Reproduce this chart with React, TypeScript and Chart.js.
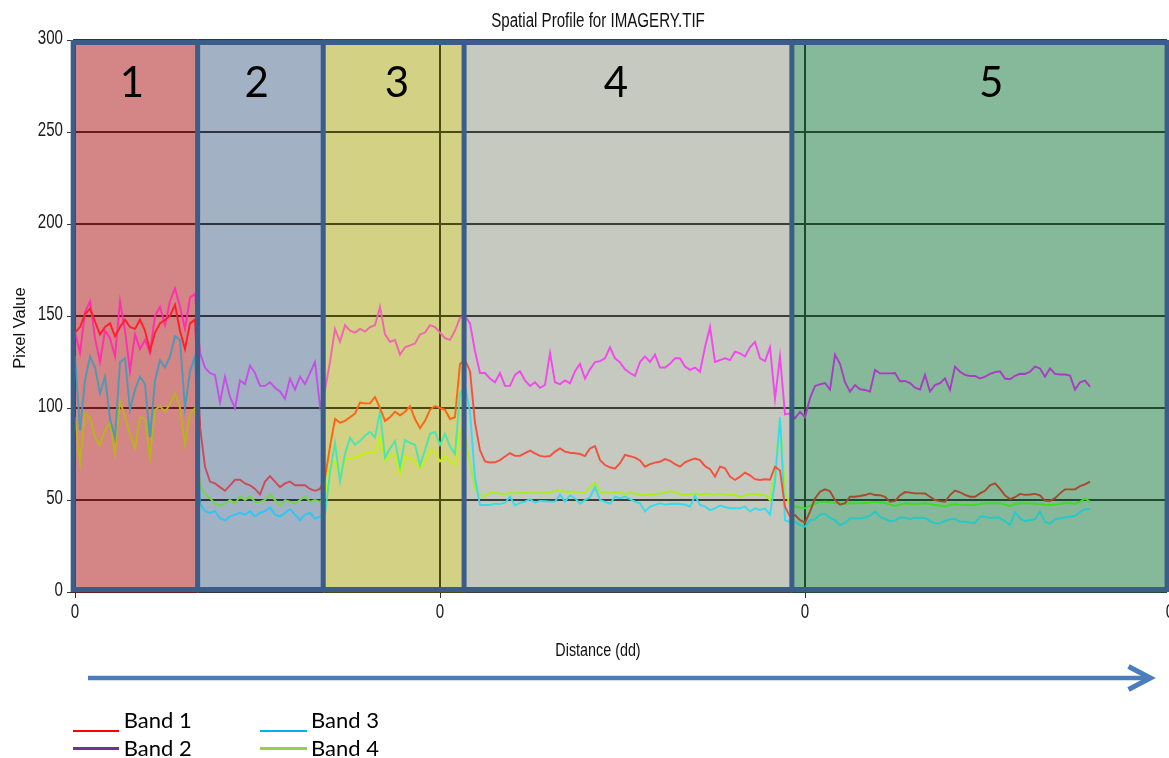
import React, { useEffect, useRef } from 'react';
import { Chart, registerables } from 'chart.js';

Chart.register(...registerables);

// ---- Text ----
const TITLE = 'Spatial Profile for IMAGERY.TIF';
const X_TITLE = 'Distance (dd)';
const Y_TITLE = 'Pixel Value';
const BAND_LABELS = ['Band 1', 'Band 2', 'Band 3', 'Band 4'];
const ZONE_NAMES = ['1', '2', '3', '4', '5'];

// ---- Axes ----
const Y_TICKS = [0, 50, 100, 150, 200, 250, 300];
const X_TICKS = [0, 1, 2, 3];
const X_TICK_LABEL = '0';
const SAMPLE_STEP = 1 / 73; // distance between profile samples

// Zone boundaries along the profile (distance units)
const ZONE_EDGES = [-0.005, 0.336, 0.68, 1.066, 1.964, 2.992];
const ZONE_LABEL_X = [0.156, 0.498, 0.882, 1.482, 2.51];

// ---- Band 1 ----
const band1Zone1 = [141, 144, 151, 154, 147, 140, 144, 146, 139, 144, 148, 144, 143, 148, 142, 131, 141, 146, 148, 150, 156, 142, 132, 146, 148];
const band1Zone2 = [90, 68, 60, 59, 57, 55, 58, 61, 61, 59, 58, 56, 53, 60, 63, 60, 57, 59, 60, 58, 58, 58, 56, 55, 56];
const band1Zone3 = [62, 79, 94, 92, 93, 95, 97, 103, 102.5, 102.5, 106, 100, 93, 95, 98, 96, 98, 101, 94, 89, 93, 99, 101, 100, 99, 94, 95, 124];
const band1Zone4 = [126, 120, 92, 77, 71, 70.4, 70.5, 71.7, 73.6, 75.5, 74, 74, 75.5, 76.8, 75.3, 74, 73.6, 73.9, 76.3, 78, 76.3, 75.7, 75.4, 75, 73.9, 78, 79.3, 71.7, 69, 67.8, 67, 70, 74.5, 73.8, 73, 71.5, 68.1, 69.5, 70.3, 70.8, 72.2, 71.3, 69.5, 68.1, 70.5, 71.7, 72.5, 71.7, 68.4, 66.8, 62.7, 68.1, 67.2, 62.7, 60.9, 62.7, 64.9, 63.4, 61.3, 60.9, 61.3, 61, 68.1, 66, 46.4, 41];
const band1Zone5 = [41.8, 39.1, 37.7, 43.7, 50.9, 54.5, 55.8, 54.8, 50, 47.5, 48.3, 51.8, 51.8, 52.2, 52.7, 53.6, 52.7, 52.6, 51.7, 49, 49.5, 52.5, 54.3, 54, 53.6, 53.6, 53.5, 51.8, 50, 49.4, 49, 52.7, 55.1, 54.2, 52.8, 51.8, 51.8, 53.6, 55, 58, 59, 56, 52.5, 50.5, 51.5, 53.3, 52.8, 53, 53.3, 52.5, 49.7, 49.5, 51, 53.6, 55.8, 55.8, 55.8, 57.5, 58.5, 60];

// ---- Band 2 ----
const band2Zone1 = [141, 130, 152, 158, 138, 125, 142, 138, 128, 158, 142, 120, 140, 132, 137, 130, 150, 155, 145, 158, 165, 155, 143, 160, 162];
const band2Zone2 = [130, 122, 119, 118, 103, 117, 106, 100, 115, 113, 123, 119, 112, 112, 114, 111, 109, 105, 116, 110, 117, 113, 119, 125, 101];
const band2Zone3 = [110, 125, 143, 136, 145, 142, 141, 143, 141.5, 144, 145, 155, 140, 136, 137, 129, 133, 134, 135, 140, 141, 145, 144, 141, 138, 137, 142, 149];
const band2Zone4 = [150, 146, 131, 119, 119, 116, 114, 119, 112, 112, 118, 120, 115, 112, 114, 111, 112.5, 130, 114, 113, 115, 113.4, 120, 124, 116, 121, 125, 125.5, 127, 133, 127, 124.8, 121, 119, 117.5, 125, 128, 125, 129, 122, 122, 124, 127, 127, 122.5, 120.7, 122, 119.7, 133, 144, 125, 126, 127, 126, 130.6, 129.7, 128, 133, 136, 127, 125.5, 133, 105, 128, 96.5, 97];
const band2Zone5 = [94.4, 98, 95, 105.3, 112, 112.8, 113.6, 110, 129, 124, 114, 108.9, 112.5, 110.2, 109.8, 108.9, 120.7, 118.8, 118.8, 118.8, 119, 114.5, 114.7, 113.5, 111, 110, 118, 109, 112.5, 113.5, 116.1, 109.8, 122.5, 119.7, 118, 117.4, 117.4, 116, 117, 118.5, 119.5, 120, 116, 115.6, 117.5, 118.6, 118.5, 119.7, 122.5, 121.5, 117, 121.5, 118.5, 118.2, 118.2, 117.6, 110, 114, 114.9, 111.6];

// ---- Band 3 ----
const band3Zone1 = [128, 88, 115, 128, 122, 108, 117, 94, 84, 125, 127, 99, 110, 117, 113, 84, 115, 126, 122, 128, 139, 137, 100, 120, 128];
const band3Zone2 = [48, 44, 43, 44, 40, 39, 41, 42, 43, 42, 44, 41, 43, 44, 46, 42, 41, 43, 45, 42, 39, 42, 43, 40, 41];
const band3Zone3 = [42, 65, 81, 60, 75, 84, 80, 82, 85, 87, 84, 98, 73, 78, 82, 68, 82.6, 81, 80, 69, 77, 86, 87, 80, 86, 79, 75, 108];
const band3Zone4 = [112, 98, 62, 47.3, 47.3, 47.3, 48, 47.8, 48.5, 51.8, 47, 48.5, 49.1, 50.5, 48.5, 49.5, 49.3, 49.1, 49.1, 53, 49.1, 52.5, 51, 48, 50, 51.5, 57, 50, 49, 48, 51.8, 51, 51.8, 50.5, 49.1, 48.2, 43.7, 46.4, 47.3, 48.2, 47.5, 47.8, 48, 47.8, 47.5, 46.5, 52.2, 47.3, 46.5, 44.5, 45.5, 47, 46.2, 45.5, 45.5, 45.5, 46.4, 43.7, 45.5, 44.6, 45.5, 42, 60, 95, 39, 38];
const band3Zone5 = [38.2, 36.4, 35.5, 39.1, 39.5, 42, 42.5, 40.3, 39, 36.4, 37.5, 40, 40, 40, 40.5, 41.5, 43.7, 40.9, 39.7, 38.5, 38.8, 40.5, 40.5, 39.5, 40.5, 40.2, 40.3, 38.5, 37.3, 37.3, 38.5, 39.6, 39.8, 38.2, 38.2, 37.7, 37.5, 40.9, 40.9, 40.3, 40.5, 40.3, 38.5, 36.4, 43.3, 40, 38.5, 39, 39.6, 43.7, 38.2, 37, 39.5, 40, 40.5, 40.9, 41.3, 43.5, 45, 45.1];

// ---- Band 4 ----
const band4Zone1 = [95, 70, 97, 95, 84, 80, 88, 92, 75, 104, 95, 86, 78, 95, 94, 73, 99, 101, 98, 102, 108, 100, 80, 97, 100];
const band4Zone2 = [58, 53, 51, 48, 47, 48, 50, 48, 52, 50, 52, 49, 49, 50, 53, 50, 47, 50, 49, 48, 50, 52, 49, 50, 49];
const band4Zone3 = [52, 69, 71, 63, 72, 73, 73, 74, 75.5, 76, 75.5, 84, 71.5, 74, 75, 64, 73.5, 72.6, 70.8, 67.5, 70.5, 77, 76, 71, 74, 71, 69, 88];
const band4Zone4 = [85, 70, 56, 52.5, 52.2, 54, 54, 53.6, 53, 54, 53.5, 54.2, 53.8, 53.8, 54, 53.6, 54, 54, 55, 55, 54.5, 54.5, 54.5, 54.3, 54, 57, 59.5, 53.6, 54.5, 53.6, 54.3, 54, 53, 54, 53.5, 52.7, 52.7, 53, 53.2, 53.6, 54, 54.9, 54, 53.3, 52.8, 53.2, 53.6, 52.7, 53.5, 53.2, 52.7, 53.6, 52.8, 52.7, 52.7, 51.8, 52.5, 53.3, 53.2, 52.7, 52.7, 50, 65, 94, 55.4, 47];
const band4Zone5 = [46.4, 46, 45.5, 46.8, 48, 49, 49.1, 48.8, 48.3, 48.2, 47.9, 48.2, 48.2, 48.2, 48.4, 48.6, 49, 48.8, 48.4, 47.5, 46.8, 47.5, 48.2, 48, 47.8, 48, 48.2, 47.8, 47.3, 47, 46.5, 47.3, 47.8, 47.5, 47.3, 47.3, 47.3, 47.8, 48.2, 48.2, 48.2, 48.2, 47.5, 46.8, 47.8, 48.2, 48.2, 48.2, 48, 47.8, 47.5, 47.3, 47.5, 47.8, 48.4, 48.2, 48, 49, 50.9, 49.1];

const BAND_SERIES = [
  [...band1Zone1, ...band1Zone2, ...band1Zone3, ...band1Zone4, ...band1Zone5],
  [...band2Zone1, ...band2Zone2, ...band2Zone3, ...band2Zone4, ...band2Zone5],
  [...band3Zone1, ...band3Zone2, ...band3Zone3, ...band3Zone4, ...band3Zone5],
  [...band4Zone1, ...band4Zone2, ...band4Zone3, ...band4Zone4, ...band4Zone5],
];

// ---- Styling ----
const LEGEND_COLORS = ['#ff0000', '#7030a0', '#00b0f0', '#92d050'];
const ZONE_FILLS = ['#d48585', '#a3b1c4', '#d2d184', '#c6c9bf', '#85b99a'];
const ZONE_GRID = ['#6a1c1c', '#2f3642', '#4c4a14', '#3c3e3a', '#1f4a30'];
// line colour of each band as it appears inside each tinted zone
const ZONE_BAND_COLORS = [
  ['#ff1f2a', '#ff2fae', '#4a9ab8', '#b8b51a'],
  ['#cc4a5a', '#c84ee8', '#2ec6f2', '#74d846'],
  ['#ff6416', '#f264b4', '#48e6b2', '#c4f20a'],
  ['#f4503e', '#f248ee', '#36dceb', '#a6f01e'],
  ['#a8482c', '#a83cc4', '#26c8c8', '#3fdc22'],
];
const FRAME_COLOR = '#3b5d8a';
const ARROW_COLOR = '#4a7ebb';
const SANS = "'Liberation Sans', Arial, sans-serif";
const NARROW_SCALE = 0.775; // horizontal squeeze for the chart window's narrow UI font

function zoneOf(x: number): number {
  for (let k = 0; k < ZONE_FILLS.length - 1; k++) {
    if (x < ZONE_EDGES[k + 1]) return k;
  }
  return ZONE_FILLS.length - 1;
}

// Draws text squeezed horizontally around (x, y)
function narrowText(
  ctx: CanvasRenderingContext2D,
  text: string,
  x: number,
  y: number,
  size: number,
  align: CanvasTextAlign,
  baseline: CanvasTextBaseline
) {
  ctx.save();
  ctx.translate(x, y);
  ctx.scale(NARROW_SCALE, 1);
  ctx.font = `${size}px ${SANS}`;
  ctx.textAlign = align;
  ctx.textBaseline = baseline;
  ctx.fillText(text, 0, 0);
  ctx.restore();
}

const profileDecor = {
  id: 'profileDecor',
  beforeDraw(chart: any) {
    const { ctx, chartArea: a, scales } = chart;
    const xs = scales.x;
    ctx.save();
    ctx.fillStyle = '#ffffff';
    ctx.fillRect(0, 0, chart.width, chart.height);
    ZONE_FILLS.forEach((c, k) => {
      const x0 = xs.getPixelForValue(ZONE_EDGES[k]);
      const x1 = xs.getPixelForValue(ZONE_EDGES[k + 1]);
      ctx.fillStyle = c;
      ctx.fillRect(x0, a.top, x1 - x0, a.bottom - a.top);
    });
    ctx.restore();
  },
  beforeDatasetsDraw(chart: any) {
    const { ctx, chartArea: a, scales } = chart;
    const xs = scales.x;
    const ys = scales.y;
    ctx.save();
    ctx.lineWidth = 2;
    ZONE_FILLS.forEach((_, k) => {
      const x0 = xs.getPixelForValue(ZONE_EDGES[k]);
      const x1 = xs.getPixelForValue(ZONE_EDGES[k + 1]);
      ctx.strokeStyle = ZONE_GRID[k];
      ctx.beginPath();
      Y_TICKS.forEach((v) => {
        const y = Math.round(ys.getPixelForValue(v));
        ctx.moveTo(x0, y);
        ctx.lineTo(x1, y);
      });
      ctx.stroke();
    });
    X_TICKS.forEach((v) => {
      const x = Math.round(xs.getPixelForValue(v));
      ctx.strokeStyle = ZONE_GRID[zoneOf(v)];
      ctx.beginPath();
      ctx.moveTo(x, a.top);
      ctx.lineTo(x, a.bottom);
      ctx.stroke();
    });
    ctx.restore();
  },
  afterDatasetsDraw(chart: any) {
    const { ctx, chartArea: a, scales } = chart;
    const xs = scales.x;
    ctx.save();
    ctx.strokeStyle = FRAME_COLOR;
    ctx.lineWidth = 5;
    const xL = xs.getPixelForValue(ZONE_EDGES[0]);
    const xR = xs.getPixelForValue(ZONE_EDGES[ZONE_EDGES.length - 1]);
    ctx.beginPath();
    ctx.moveTo(xL - 2.5, a.top + 2.5);
    ctx.lineTo(xR + 2.5, a.top + 2.5);
    ctx.moveTo(xL - 2.5, a.bottom - 2.5);
    ctx.lineTo(xR + 2.5, a.bottom - 2.5);
    ZONE_EDGES.forEach((e) => {
      const x = xs.getPixelForValue(e);
      ctx.moveTo(x, a.top);
      ctx.lineTo(x, a.bottom);
    });
    ctx.stroke();

    ctx.fillStyle = '#000000';
    ctx.font = '42px Lato';
    ctx.textAlign = 'center';
    ctx.textBaseline = 'alphabetic';
    ZONE_NAMES.forEach((name, k) => {
      ctx.fillText(name, xs.getPixelForValue(ZONE_LABEL_X[k]), a.top + 57);
    });
    ctx.restore();
  },
  afterDraw(chart: any) {
    const { ctx, chartArea: a, scales } = chart;
    const xs = scales.x;
    const ys = scales.y;
    ctx.save();
    ctx.fillStyle = '#1a1a1a';
    // tick labels
    Y_TICKS.forEach((v) => {
      narrowText(ctx, String(v), 63, ys.getPixelForValue(v) - 1, 19.5, 'right', 'middle');
    });
    X_TICKS.forEach((v) => {
      narrowText(ctx, X_TICK_LABEL, xs.getPixelForValue(v), a.bottom + 25.5, 19.5, 'center', 'alphabetic');
    });
    // titles
    ctx.fillStyle = '#111111';
    narrowText(ctx, TITLE, 598, a.top - 13.5, 19.5, 'center', 'alphabetic');
    narrowText(ctx, X_TITLE, 598, a.bottom + 63.5, 18.5, 'center', 'alphabetic');
    ctx.translate(25, 328);
    ctx.rotate(-Math.PI / 2);
    ctx.font = `16.5px ${SANS}`;
    ctx.textAlign = 'center';
    ctx.textBaseline = 'alphabetic';
    ctx.fillText(Y_TITLE, 0, 0);
    ctx.restore();
  },
};

function ProfileChart() {
  const canvasRef = useRef<HTMLCanvasElement | null>(null);

  useEffect(() => {
    const canvas = canvasRef.current;
    if (!canvas) return;
    const chart = new Chart(canvas, {
      type: 'line',
      data: {
        datasets: BAND_SERIES.map((series, b) => ({
          label: BAND_LABELS[b],
          data: series.map((v, i) => ({ x: i * SAMPLE_STEP, y: v })),
          borderColor: LEGEND_COLORS[b],
          borderWidth: 1.9,
          pointRadius: 0,
          tension: 0,
          fill: false,
          segment: {
            borderColor: (ctx: any) =>
              ZONE_BAND_COLORS[zoneOf((ctx.p0.parsed.x + ctx.p1.parsed.x) / 2)][b],
          },
        })),
      },
      options: {
        animation: false,
        responsive: false,
        devicePixelRatio: 1,
        events: [],
        layout: { padding: { top: 40, left: 0, right: 30, bottom: 126 } },
        plugins: {
          legend: { display: false },
          title: { display: false },
          tooltip: { enabled: false },
        },
        scales: {
          x: {
            type: 'linear',
            min: 0,
            max: 3,
            afterBuildTicks: (s: any) => {
              s.ticks = X_TICKS.map((value) => ({ value }));
            },
            afterFit: (s: any) => {
              s.height = 40;
            },
            ticks: { display: false },
            grid: { drawOnChartArea: false, tickLength: 6, color: '#333333', lineWidth: 1 },
            border: { display: false },
          },
          y: {
            type: 'linear',
            min: 0,
            max: 300,
            afterBuildTicks: (s: any) => {
              s.ticks = Y_TICKS.map((value) => ({ value }));
            },
            afterFit: (s: any) => {
              s.width = 75;
            },
            ticks: { display: false },
            grid: { drawOnChartArea: false, tickLength: 8, color: '#333333', lineWidth: 1 },
            border: { display: false },
          },
        },
      },
      plugins: [profileDecor],
    });
    return () => chart.destroy();
  }, []);

  return <canvas ref={canvasRef} width={1200} height={758} style={{ display: 'block' }} />;
}

const LEGEND_COL_X = [72.7, 260];
const LEGEND_LINE_Y = [731, 748.3];
const LEGEND_TEXT_TOP = [708.5, 736.5];

export default function App() {
  return (
    <div
      style={{
        position: 'fixed',
        left: 0,
        top: 0,
        width: 1169,
        height: 758,
        overflow: 'hidden',
        background: '#ffffff',
      }}
    >
      <ProfileChart />
      <svg
        width={1169}
        height={758}
        style={{ position: 'absolute', left: 0, top: 0, pointerEvents: 'none' }}
      >
        <line x1={88} y1={678} x2={1148} y2={678} stroke={ARROW_COLOR} strokeWidth={4.7} />
        <polyline
          points="1128.5,666.5 1150.5,678 1128.5,689.5"
          fill="none"
          stroke={ARROW_COLOR}
          strokeWidth={5}
          strokeLinejoin="miter"
        />
      </svg>
      {BAND_LABELS.map((label, i) => {
        const col = Math.floor(i / 2);
        const row = i % 2;
        return (
          <React.Fragment key={label}>
            <div
              style={{
                position: 'absolute',
                left: LEGEND_COL_X[col],
                top: LEGEND_LINE_Y[row] - 1.25,
                width: 46.6,
                height: 2.5,
                background: LEGEND_COLORS[i],
              }}
            />
            <div
              style={{
                position: 'absolute',
                left: LEGEND_COL_X[col] + 51,
                top: LEGEND_TEXT_TOP[row],
                fontFamily: 'Lato, sans-serif',
                fontSize: 22,
                lineHeight: '22px',
                color: '#000000',
                whiteSpace: 'nowrap',
              }}
            >
              {label}
            </div>
          </React.Fragment>
        );
      })}
    </div>
  );
}
